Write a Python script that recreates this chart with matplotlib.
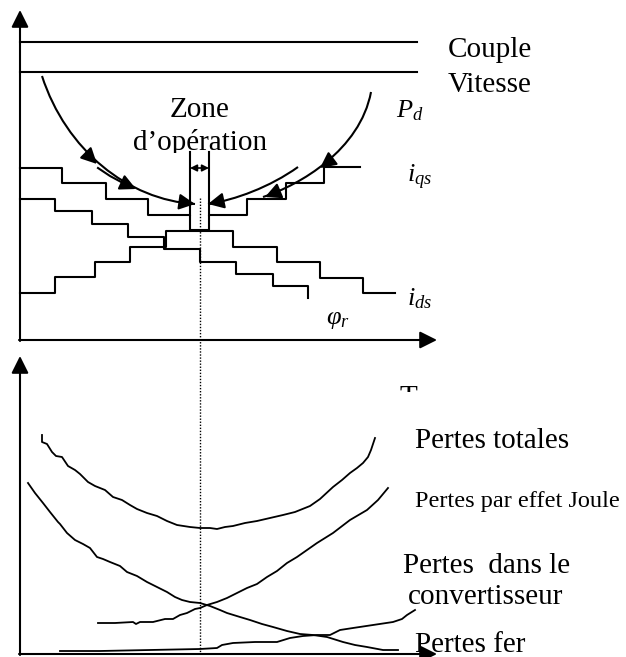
import matplotlib.pyplot as plt
from matplotlib.patches import Rectangle, PathPatch
from matplotlib.path import Path

plt.rcParams['font.family'] = ['Liberation Serif', 'DejaVu Serif']
plt.rcParams['mathtext.fontset'] = 'custom'
plt.rcParams['mathtext.rm'] = 'Liberation Serif'
plt.rcParams['mathtext.it'] = 'Liberation Serif:italic'

# consignes constantes (haut)
consignes_y = [42, 72]
consignes_noms = ['Couple', 'Vitesse']

# courbe Pd : points de controle de Bezier (depart, ctrl1, ctrl2, arrivee)
pd_gauche = [(42, 76), (66, 150), (128, 200), (195, 204)]
pd_droite = [(371, 92), (360, 150), (300, 185), (263, 197)]
pd_int = [(298, 167), (270, 187), (235, 200), (208, 204)]
pd_double_x = [98, 110, 123]
pd_double_y = [168, 176, 183]

# fleches sur Pd : (pointe, origine)
fleches_pd = [((97, 164), (86, 153)), ((136, 189), (123, 183)),
              ((195, 204), (181, 202)), ((208, 204), (222, 201)),
              ((320, 168), (332, 159)), ((265, 197), (277, 192))]

# escaliers iqs, phi_r, ids
iqs_x = [20, 62, 106, 148, 190, 209, 247, 286, 324, 360]
iqs_y = [168, 183, 199, 215, 230, 215, 199, 183, 167, 167]
phir_x = [20, 55, 92, 128, 164, 200, 236, 273, 308, 308]
phir_y = [199, 211, 224, 237, 249, 262, 274, 286, 298, 298]
ids_x = [20, 55, 95, 130, 166, 233, 277, 320, 363, 395]
ids_y = [293, 277, 262, 247, 231, 247, 262, 278, 293, 293]

# zone d'operation
zone_x = [190, 209]
zone_haut, zone_bas = 152, 215
zone_fleche_y = 168
optimum_x = 200

# pertes (bas)
totales_x = [42, 42, 47, 52, 56, 62, 68, 75, 80, 88, 95, 105, 113, 122, 130, 137, 147,
             157, 167, 177, 190, 200, 210, 217, 225, 233, 245, 257, 270, 283, 295, 300,
             310, 320, 333, 342, 350, 357, 363, 368, 371, 373, 375]
totales_y = [435, 442, 444, 452, 456, 457, 466, 470, 474, 482, 486, 490, 497, 500, 505,
             509, 513, 516, 521, 525, 527, 528, 528, 529, 527, 526, 523, 521, 518, 515,
             512, 510, 506, 499, 487, 480, 473, 468, 463, 457, 450, 444, 438]
joule_x = [98, 115, 133, 136, 140, 153, 165, 173, 180, 187, 195, 200, 207, 217, 227, 237,
           247, 257, 267, 277, 287, 297, 307, 317, 333, 350, 367, 378, 388]
joule_y = [623, 623, 622, 624, 622, 622, 619, 619, 615, 613, 609, 608, 605, 602, 598, 593,
           588, 584, 577, 571, 563, 557, 550, 543, 533, 520, 510, 500, 488]
conv_x = [28, 35, 43, 50, 58, 60, 67, 75, 83, 90, 97, 103, 110, 120, 127, 137, 147, 157,
          167, 175, 182, 190, 200, 210, 220, 227, 240, 250, 262, 273, 287, 300, 313, 327,
          343, 355, 367, 383, 398]
conv_y = [483, 493, 503, 512, 522, 524, 533, 540, 544, 548, 557, 559, 562, 566, 572, 576,
          582, 587, 592, 597, 600, 602, 603, 606, 610, 613, 617, 620, 624, 627, 631, 634,
          635, 637, 642, 645, 647, 650, 650]
fer_x = [60, 100, 150, 200, 217, 222, 233, 255, 277, 290, 303, 317, 330, 340, 353, 373,
         393, 402, 407, 415]
fer_y = [651, 651, 650, 649, 648, 645, 643, 642, 642, 638, 636, 635, 635, 630, 628, 625,
         622, 619, 615, 610]

fig = plt.figure(figsize=(6.26, 6.57), dpi=100)
ax = fig.add_axes([0, 0, 1, 1])
ax.set_xlim(0, 626)
ax.set_ylim(657, 0)
ax.axis('off')

lw = 1.5
fl = dict(arrowstyle='-|>', color='black', lw=lw, mutation_scale=26, shrinkA=0, shrinkB=0)

#Axes du haut
ax.annotate('', xy=(20, 10), xytext=(20, 341), arrowprops=fl)
ax.annotate('', xy=(437, 340), xytext=(19, 340), arrowprops=fl)
#Axes du bas
ax.annotate('', xy=(20, 356), xytext=(20, 655), arrowprops=fl)
ax.annotate('', xy=(437, 654), xytext=(19, 654), arrowprops=fl)

#Couple et vitesse
for y in consignes_y:
    ax.plot([20, 417], [y, y], color='black', lw=lw)
ax.text(448, 57, consignes_noms[0], fontsize=21, va='baseline')
ax.text(448, 92, consignes_noms[1], fontsize=21, va='baseline')

#Courbe Pd
codes = [Path.MOVETO, Path.CURVE4, Path.CURVE4, Path.CURVE4]
for pts in [pd_gauche, pd_droite, pd_int]:
    ax.add_patch(PathPatch(Path(pts, codes), facecolor='none', edgecolor='black', lw=lw))
ax.plot(pd_double_x, pd_double_y, color='black', lw=lw)
fc = dict(arrowstyle='-|>', color='black', lw=lw, mutation_scale=24, shrinkA=0, shrinkB=0)
for pointe, origine in fleches_pd:
    ax.annotate('', xy=pointe, xytext=origine, arrowprops=fc)

#Escaliers
ax.step(iqs_x, iqs_y, where='post', color='black', lw=lw)
ax.step(phir_x, phir_y, where='post', color='black', lw=lw)
ax.step(ids_x, ids_y, where='post', color='black', lw=lw)

#Zone d'operation
for x in zone_x:
    ax.plot([x, x], [zone_haut, zone_bas], color='black', lw=lw)
ax.annotate('', xy=(zone_x[0], zone_fleche_y), xytext=(zone_x[1], zone_fleche_y),
            arrowprops=dict(arrowstyle='<|-|>', color='black', lw=1.2,
                            mutation_scale=10, shrinkA=0, shrinkB=0))
ax.plot([optimum_x, optimum_x], [198, 652], color='black', lw=1, ls=(0, (1, 1.2)))
ax.text(200, 117, 'Zone', fontsize=21, ha='center', va='baseline')
t = ax.text(200, 150, 'd’opération', fontsize=21, ha='center', va='baseline')
t.set_clip_path(Rectangle((0, 0), 626, 153, transform=ax.transData))
t.set_clip_on(True)

#Etiquettes du haut
ax.text(396, 117, r'$P_d$', fontsize=19, va='baseline')
ax.text(407, 182, r'$i_{qs}$', fontsize=19, va='baseline')
ax.text(407, 305, r'$i_{ds}$', fontsize=19, va='baseline')
ax.text(326, 324, r'$\varphi_r$', fontsize=19, va='baseline')
t = ax.text(399, 405, 'T', fontsize=21, va='baseline')
t.set_clip_path(Rectangle((0, 0), 626, 392, transform=ax.transData))
t.set_clip_on(True)

#Pertes
for cx, cy in [(totales_x, totales_y), (joule_x, joule_y), (conv_x, conv_y), (fer_x, fer_y)]:
    ax.plot(cx, cy, color='black', lw=1.3)
ax.text(415, 448, 'Pertes totales', fontsize=21, va='baseline')
ax.text(415, 507, 'Pertes par effet Joule', fontsize=17.5, va='baseline')
ax.text(403, 573, 'Pertes  dans le', fontsize=21, va='baseline')
ax.text(408, 604, 'convertisseur', fontsize=21, va='baseline')
ax.text(415, 652, 'Pertes fer', fontsize=21, va='baseline')

fig.savefig('out.png', dpi=100)
